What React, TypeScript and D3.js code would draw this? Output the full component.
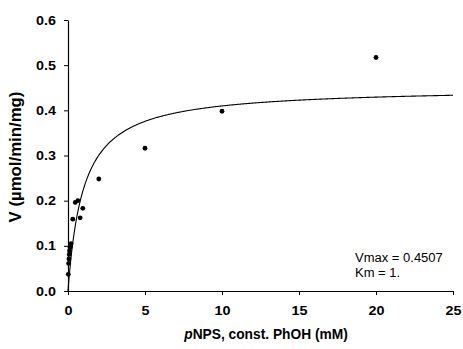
import React, { useEffect, useRef } from "react";
import * as d3 from "d3";

// Measured points: substrate (mM) and rate
const substrate = [0.02, 0.04, 0.06, 0.08, 0.1, 0.14, 0.2, 0.31, 0.47, 0.64, 0.79, 0.96, 2, 5, 10, 20];
const rate = [0.037, 0.061, 0.071, 0.081, 0.089, 0.097, 0.105, 0.159, 0.196, 0.2, 0.162, 0.183, 0.248, 0.316, 0.398, 0.517];

const xTicks = [0, 5, 10, 15, 20, 25];
const yTicks = [0, 0.1, 0.2, 0.3, 0.4, 0.5, 0.6];

const vmax = 0.4507;
const km = 1;

const App = () => {
  const svgRef = useRef<SVGSVGElement>(null);

  useEffect(() => {
    const width = 463;
    const height = 349;
    const margin = { top: 20, right: 10, bottom: 58, left: 68 };
    const stretch = 1.15; // tick labels are drawn a bit wide in the original

    const svg = d3.select(svgRef.current).attr("width", width).attr("height", height);
    svg.selectAll("*").remove();

    const x = d3.scaleLinear().domain([0, 25]).range([margin.left, 453]);
    const y = d3.scaleLinear().domain([0, 0.6]).range([291, margin.top]);

    const font = "'Liberation Sans', Arial, sans-serif";

    // Axes
    const xAxis = svg
      .append("g")
      .attr("transform", `translate(0,${y(0)})`)
      .call(d3.axisBottom(x).tickValues(xTicks).tickSize(4).tickSizeOuter(0).tickFormat(d3.format("d")));
    const yAxis = svg
      .append("g")
      .attr("transform", `translate(${x(0)},0)`)
      .call(d3.axisLeft(y).tickValues(yTicks).tickSize(4).tickSizeOuter(0).tickFormat(d3.format(".1f")));

    [xAxis, yAxis].forEach((g) => {
      g.select(".domain").attr("stroke", "#000").attr("stroke-width", 1.2);
      g.selectAll(".tick line").attr("stroke", "#000");
      g.selectAll(".tick text")
        .attr("fill", "#000")
        .attr("font-family", font)
        .attr("font-weight", "bold")
        .attr("font-size", 12.5)
        .attr("transform", `scale(${stretch},1)`);
    });
    xAxis.selectAll(".tick text").attr("y", 24.5).attr("dy", null);
    yAxis.selectAll(".tick text").attr("x", -12 / stretch);

    // Michaelis-Menten fit
    const curveX = d3.range(0, 25.001, 0.05);
    const line = d3
      .line<number>()
      .x((d) => x(d))
      .y((d) => y((vmax * d) / (km + d)));
    svg
      .append("path")
      .datum(curveX)
      .attr("d", line)
      .attr("fill", "none")
      .attr("stroke", "#000")
      .attr("stroke-width", 1.1);

    // Points
    svg
      .append("g")
      .selectAll("circle")
      .data(substrate)
      .enter()
      .append("circle")
      .attr("cx", (d) => x(d))
      .attr("cy", (_, i) => y(rate[i]))
      .attr("r", 2.4)
      .attr("fill", "#000");

    // Axis titles
    const xt = svg
      .append("text")
      .attr("transform", `translate(266,339) scale(0.95,1)`)
      .attr("text-anchor", "middle")
      .attr("font-family", font)
      .attr("font-weight", "bold")
      .attr("font-size", 14.5);
    xt.append("tspan").attr("font-style", "italic").text("p");
    xt.append("tspan").text("NPS, const. PhOH (mM)");

    svg
      .append("text")
      .attr("transform", `translate(21,157) rotate(-90) scale(1.05,1)`)
      .attr("text-anchor", "middle")
      .attr("font-family", font)
      .attr("font-weight", "bold")
      .attr("font-size", 16)
      .text("V (µmol/min/mg)");

    // Fit parameters
    svg
      .append("text")
      .attr("transform", "translate(355,262) scale(1.04,1)")
      .attr("font-family", font)
      .attr("font-size", 12.5)
      .text(`Vmax = ${vmax}`);
    svg
      .append("text")
      .attr("transform", "translate(355,277) scale(1.04,1)")
      .attr("font-family", font)
      .attr("font-size", 12.5)
      .text(`Km = ${km}.`);
  }, []);

  return <svg ref={svgRef} style={{ position: "absolute", left: 0, top: 0 }}></svg>;
};

export default App;
